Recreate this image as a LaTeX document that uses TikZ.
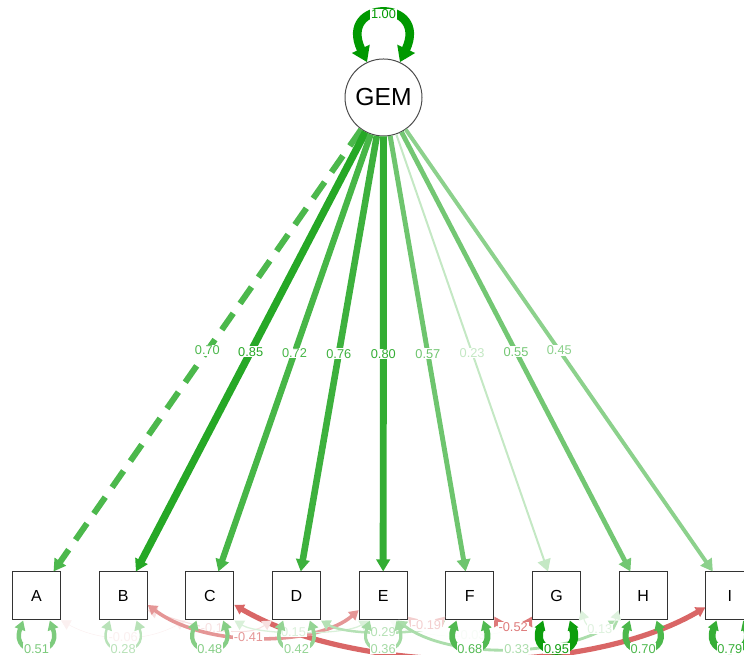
\documentclass[tikz,border=0pt]{standalone}
\usepackage{fontspec}
\setmainfont{Liberation Sans}
\usetikzlibrary{arrows.meta}
\definecolor{posgreen}{HTML}{009900}
\definecolor{negred}{HTML}{BF0000}

\begin{document}
\begin{tikzpicture}
		[x=0.75pt, y=0.75pt, node distance={65pt}, thick,
		lat/.style = {draw=black!70, line width=0.75pt, circle, minimum size=57.75pt, inner sep=0pt, font=\fontsize{18.5}{20}\selectfont},
		obs/.style = {draw=black!80, line width=0.75pt, fill=white, minimum size=36pt, inner sep=0pt, font=\fontsize{12}{13}\selectfont},
		onetip/.style = {-{Triangle[length=9pt,width=10pt]}},
		twotip/.style = {{Triangle[length=7pt,width=8pt]}-{Triangle[length=7pt,width=8pt]}},
		bigtip/.style = {{Triangle[length=11pt,width=14pt]}-{Triangle[length=11pt,width=14pt]}},
		pe/.style = {draw=posgreen!#1!white, line width=#1*0.065pt},
		ne/.style = {draw=negred!#1!white, line width=#1*0.065pt},
		pl/.style = {text=posgreen!#1!white, fill=white, inner sep=0.6pt, font=\fontsize{9.6}{10}\selectfont},
		nl/.style = {text=negred!#1!white, fill=white, inner sep=0.6pt, font=\fontsize{9.6}{10}\selectfont}]
	\useasboundingbox (0,0) rectangle (744,655);
	% factor and indicators
	\node[lat] (gem) at (383.5,557.5) {GEM};
	\node[obs] (A) at (36.5,59) {A};
	\node[obs] (B) [right of = A] {B};
	\node[obs] (C) [right of = B] {C};
	\node[obs] (D) [right of = C] {D};
	\node[obs] (E) [right of = D] {E};
	\node[obs] (F) [right of = E] {F};
	\node[obs] (G) [right of = F] {G};
	\node[obs] (H) [right of = G] {H};
	\node[obs] (I) [right of = H] {I};
	% factor variance
	\draw[pe=100, bigtip] (gem.115) .. controls +(115:70) and +(65:70) .. (gem.65) node[midway, pl=100] {1.00};
	% loadings
	\draw[pe=70, onetip, dash pattern=on 15pt off 9pt] (gem) -- node[pl=70] {0.70} (A);
	\draw[pe=85, onetip] (gem) -- node[pl=85] {0.85} (B);
	\draw[pe=72, onetip] (gem) -- node[pl=72] {0.72} (C);
	\draw[pe=76, onetip] (gem) -- node[pl=76] {0.76} (D);
	\draw[pe=80, onetip] (gem) -- node[pl=80] {0.80} (E);
	\draw[pe=57, onetip] (gem) -- node[pl=57] {0.57} (F);
	\draw[pe=23, onetip] (gem) -- node[pl=23] {0.23} (G);
	\draw[pe=55, onetip] (gem) -- node[pl=55] {0.55} (H);
	\draw[pe=45, onetip] (gem) -- node[pl=45] {0.45} (I);
	% residual covariances
	\draw[ne=60, twotip] (C.-20) .. controls +(120,-70) and +(-120,-70) .. (I.-155);
	\draw[ne=6, twotip] (A.south east) .. controls +(40,-22) and +(-40,-22) .. node[nl=6] {-0.06} (C.south west);
	\draw[ne=12, twotip] (B.-30) .. controls +(45,-15) and +(-30,-20) .. node[nl=12] {-0.12} (D.south west);
	\draw[ne=41, twotip] (B.-20) .. controls +(60,-45) and +(-40,-35) .. node[pos=0.45, nl=41] {-0.41} (E.-150);
	\draw[pe=15, twotip] (C.south east) .. controls +(25,-15) and +(-25,-15) .. node[pos=0.45, pl=15] {0.15} (E.-120);
	\draw[pe=29, twotip] (D.south east) .. controls +(25,-15) and +(-25,-15) .. node[pl=29] {0.29} (F.south west);
	\draw[ne=19, twotip] (E.-40) .. controls +(12,-12) and +(-12,-12) .. node[nl=19] {-0.19} (F.-140);
	\draw[pe=3, twotip] (E.-75) .. controls +(40,-20) and +(-40,-20) .. node[pos=0.58, pl=3] {0.03} (G.south west);
	\draw[ne=52, twotip] (F.-40) .. controls +(8,-14) and +(-8,-14) .. node[nl=52] {-0.52} (G.-140);
	\draw[pe=33, twotip] (E.-60) .. controls +(50,-38) and +(-60,-38) .. node[pos=0.55, pl=33] {0.33} (H.south west);
	\draw[pe=13, twotip] (G.-30) .. controls +(8,-25) and +(-8,-25) .. node[pl=13] {0.13} (H.-150);
	% residual variances
	\draw[pe=51, twotip] ([xshift=-10pt]A.south) .. controls +(-110:40) and +(-70:40) .. ([xshift=10pt]A.south) node[midway, pl=51] {0.51};
	\draw[pe=28, twotip] ([xshift=-10pt]B.south) .. controls +(-110:40) and +(-70:40) .. ([xshift=10pt]B.south) node[midway, pl=28] {0.28};
	\draw[pe=48, twotip] ([xshift=-10pt]C.south) .. controls +(-110:40) and +(-70:40) .. ([xshift=10pt]C.south) node[midway, pl=48] {0.48};
	\draw[pe=42, twotip] ([xshift=-10pt]D.south) .. controls +(-110:40) and +(-70:40) .. ([xshift=10pt]D.south) node[midway, pl=42] {0.42};
	\draw[pe=36, twotip] ([xshift=-10pt]E.south) .. controls +(-110:40) and +(-70:40) .. ([xshift=10pt]E.south) node[midway, pl=36] {0.36};
	\draw[pe=68, twotip] ([xshift=-10pt]F.south) .. controls +(-110:40) and +(-70:40) .. ([xshift=10pt]F.south) node[midway, pl=68] {0.68};
	\draw[pe=95, twotip] ([xshift=-10pt]G.south) .. controls +(-110:40) and +(-70:40) .. ([xshift=10pt]G.south) node[midway, pl=95] {0.95};
	\draw[pe=70, twotip] ([xshift=-10pt]H.south) .. controls +(-110:40) and +(-70:40) .. ([xshift=10pt]H.south) node[midway, pl=70] {0.70};
	\draw[pe=79, twotip] ([xshift=-10pt]I.south) .. controls +(-110:40) and +(-70:40) .. ([xshift=10pt]I.south) node[midway, pl=79] {0.79};
\end{tikzpicture}
\end{document}
